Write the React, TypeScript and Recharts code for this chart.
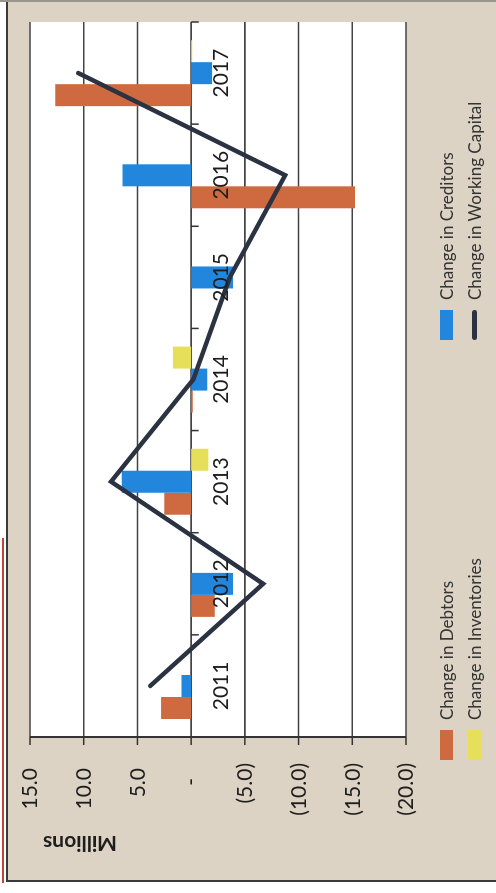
import {
  ComposedChart, Bar, Line, XAxis, YAxis, CartesianGrid,
  ReferenceLine, ReferenceDot,
} from 'recharts';

// Values in millions, one entry per year
const years = ['2011', '2012', '2013', '2014', '2015', '2016', '2017'];
const debtors = [2.8, -2.2, 2.5, -0.15, 0, -15.25, 12.65];
const creditors = [0.9, -3.9, 6.45, -1.5, -3.9, 6.4, -1.95];
const inventories = [0, 0, -1.6, 1.7, 0, 0, -0.1];
const workingCapital = [3.8, -6.7, 7.45, -0.2, -3.6, -8.75, 10.5];
const valueTicks = [15, 10, 5, 0, -5, -10, -15, -20];

const data = years.map((year, i) => ({
  year,
  debtors: debtors[i],
  creditors: creditors[i],
  inventories: inventories[i],
  workingCapital: workingCapital[i],
}));

const FONT = 'Lato, "Open Sans", sans-serif';
const INK = '#1e1e1e';
const COLORS = {
  debtors: '#cf6a40',
  creditors: '#2186dc',
  inventories: '#e6df5a',
  workingCapital: '#2b3242',
};

const W = 893;
const H = 496;

// accounting style: 15.0 / - / (5.0)
const fmt = (v: number) =>
  v === 0 ? '-' : v < 0 ? `(${Math.abs(v).toFixed(1)})` : v.toFixed(1);

function ValueTick({ x, y, payload }: any) {
  const v = payload.value as number;
  const dx = v === 0 ? -15 : v > 0 ? -5 : 0;
  return (
    <text x={x + dx} y={y} dy="0.35em" textAnchor="end" fill={INK} fontSize={21} fontFamily={FONT}>
      {fmt(v)}
    </text>
  );
}

const legendItems = [
  { key: 'debtors', name: 'Change in Debtors', col: 0, row: 0, kind: 'bar' },
  { key: 'creditors', name: 'Change in Creditors', col: 1, row: 0, kind: 'bar' },
  { key: 'inventories', name: 'Change in Inventories', col: 0, row: 1, kind: 'bar' },
  { key: 'workingCapital', name: 'Change in Working Capital', col: 1, row: 1, kind: 'line' },
] as const;

function ChartLegend() {
  return (
    <>
      {legendItems.map(it => (
        <div
          key={it.key}
          style={{
            position: 'absolute',
            left: it.col === 0 ? 133 : 553,
            top: it.row === 0 ? 434 : 462,
            height: 24,
            display: 'flex',
            alignItems: 'center',
            fontFamily: FONT,
            fontSize: 17,
            color: '#333',
            whiteSpace: 'nowrap',
          }}
        >
          {it.kind === 'bar' ? (
            <span style={{ width: 30, height: 13, background: COLORS[it.key], marginRight: 10 }} />
          ) : (
            <span style={{ width: 30, height: 5, borderRadius: 3, background: COLORS[it.key], marginRight: 10 }} />
          )}
          {it.name}
        </div>
      ))}
    </>
  );
}

export default function App() {
  return (
    <div
      style={{
        position: 'fixed',
        left: 0,
        top: 0,
        width: W,
        height: H,
        background: '#fff',
        transformOrigin: '0 0',
        transform: `translate(0px, ${W}px) rotate(-90deg)`,
      }}
    >
      {/* chart frame */}
      <div style={{ position: 'absolute', left: 891, top: 0, width: 2, height: H, background: '#9a958c' }} />
      <div
        style={{
          position: 'absolute', left: 11, top: 6, width: 880, height: H - 6,
          background: '#dcd3c4', borderLeft: '2px solid #3a3a3a', borderTop: '2px solid #3a3a3a',
          boxSizing: 'border-box',
        }}
      />
      <div style={{ position: 'absolute', left: 10, top: 2, width: 345, height: 2, background: '#c2453a' }} />

      <div style={{ position: 'absolute', left: 0, top: 0 }}>
        <ComposedChart
          width={W}
          height={H}
          data={data}
          margin={{ top: 30, right: 22, bottom: 90, left: 0 }}
          barGap={0}
          barCategoryGap="17.6%"
        >
          <CartesianGrid vertical={false} fill="#ffffff" stroke="#444" strokeWidth={1.6} />
          <XAxis dataKey="year" hide />
          <YAxis
            type="number"
            domain={[-20, 15]}
            ticks={valueTicks}
            interval={0}
            width={156}
            tickSize={8}
            tickMargin={18}
            axisLine={{ stroke: '#333', strokeWidth: 2 }}
            tickLine={{ stroke: '#333', strokeWidth: 1.5 }}
            tick={<ValueTick />}
            label={{
              content: () => (
                <text
                  x={48}
                  y={80}
                  transform="rotate(-90 48 80)"
                  textAnchor="middle"
                  dominantBaseline="central"
                  fill={INK}
                  fontSize={21}
                  fontWeight={700}
                  fontFamily={FONT}
                >
                  Millions
                </text>
              ),
            }}
          />
          <Bar dataKey="debtors" name="Change in Debtors" fill={COLORS.debtors} isAnimationActive={false} />
          <Bar dataKey="creditors" name="Change in Creditors" fill={COLORS.creditors} isAnimationActive={false} />
          <Bar dataKey="inventories" name="Change in Inventories" fill={COLORS.inventories} isAnimationActive={false} />

          {/* category ticks on the zero line */}
          {years.map(y => (
            <ReferenceLine
              key={'tick' + y}
              segment={[{ x: y, y: 0 }, { x: y, y: -0.7 }]}
              position="start"
              stroke="#333"
              strokeWidth={1.5}
            />
          ))}
          <ReferenceLine
            segment={[{ x: '2017', y: 0 }, { x: '2017', y: -0.7 }]}
            position="end"
            stroke="#333"
            strokeWidth={1.5}
          />

          {/* year labels sit just under the zero line */}
          {years.map(y => (
            <ReferenceDot
              key={'lbl' + y}
              x={y}
              y={0}
              r={0}
              fill="none"
              stroke="none"
              label={{ value: y, position: 'bottom', offset: 22, fill: INK, fontSize: 21, fontFamily: FONT }}
            />
          ))}

          <Line
            dataKey="workingCapital"
            name="Change in Working Capital"
            stroke={COLORS.workingCapital}
            strokeWidth={4.5}
            strokeLinecap="round"
            dot={false}
            activeDot={false}
            isAnimationActive={false}
          />
        </ComposedChart>
      </div>
      <ChartLegend />
    </div>
  );
}
